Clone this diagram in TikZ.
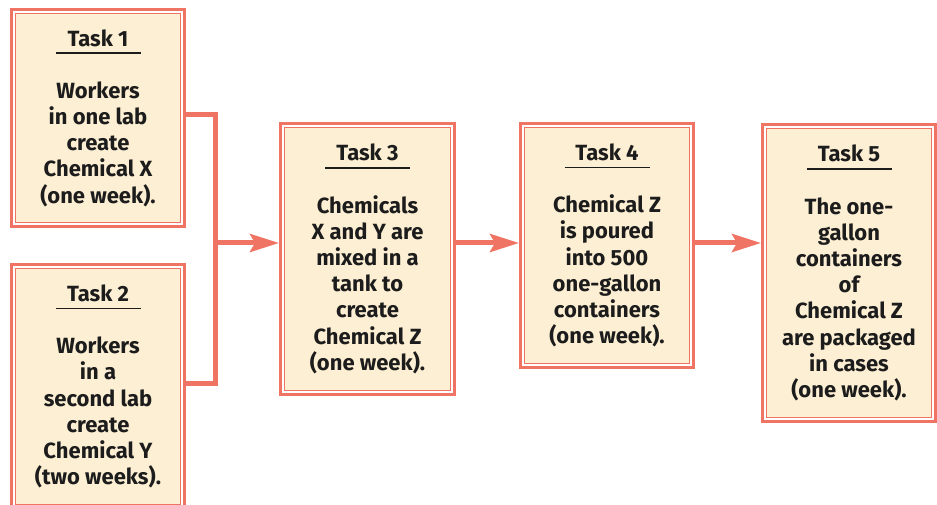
\documentclass[tikz,border=0pt]{standalone}
\usepackage{fontspec}
\setmainfont{Fira Sans}
\usetikzlibrary{arrows.meta,positioning,fit,calc}
\definecolor{TaskSalmon}{HTML}{EF7463}
\definecolor{TaskCream}{HTML}{FDEFD3}
\definecolor{TaskInk}{HTML}{1C1C1C}
\newcommand{\tasktitle}[1]{\makebox[85pt]{\rlap{\rule[-7.8pt]{85pt}{1.6pt}}\hfill#1\hfill}\\[26pt]}
\tikzset{
  taskbox/.style={draw=TaskSalmon,line width=1.2pt,fill=TaskCream,align=center,anchor=north west,outer sep=0pt,inner sep=0pt,minimum width=164.6pt,text=TaskInk,font=\fontsize{22}{26.2}\selectfont\bfseries},
  taskframe/.style={draw=TaskSalmon,line width=3.3pt,inner sep=4pt},
  flowline/.style={draw=TaskSalmon,line width=5pt},
  flowarrow/.style={flowline,-{Stealth[length=29pt,width=18pt,inset=5pt]}}
}

\begin{document}
\begin{tikzpicture}[x=1pt,y=-1pt]
\useasboundingbox (0,0) rectangle (937,505);
\node[taskbox,minimum height=208.6pt] (t1) at (15.7,13.7) {\tasktitle{Task 1}Workers\\in one lab\\create\\Chemical X\\(one week).};
\node[taskbox,minimum height=235.6pt] (t2) at (15.7,268.7) {\tasktitle{Task 2}Workers\\in a\\second lab\\create\\Chemical Y\\(two weeks).};
\node[taskbox,minimum height=262.6pt,minimum width=165.6pt] (t3) at (284.7,127.7) {\tasktitle{Task 3}Chemicals\\X and Y are\\mixed in a\\tank to\\create\\Chemical Z\\(one week).};
\node[taskbox,minimum height=235.6pt] (t4) at (524.7,127.7) {\tasktitle{Task 4}Chemical Z\\is poured\\into 500\\one-gallon\\containers\\(one week).};
\node[taskbox,minimum height=288.6pt] (t5) at (766.7,128.7) {\tasktitle{Task 5}The one-\\gallon\\containers\\of\\Chemical Z\\are packaged\\in cases\\(one week).};
% outer frames
\foreach \n in {t1,t2,t3,t4,t5}
  \node[taskframe,fit=(\n)] (\n-o) {};
\coordinate (join) at (215,243);
\draw[flowline] ([yshift=3pt]t1-o.east) -| (join) |- ([yshift=3.5pt]t2-o.east);
\draw[flowarrow] (join) -- (join -| t3-o.west);
\draw[flowarrow] (t3-o.east |- join) -- (t4-o.west |- join);
\draw[flowarrow] (t4-o.east |- join) -- (t5-o.west |- join);
\end{tikzpicture}
\end{document}
